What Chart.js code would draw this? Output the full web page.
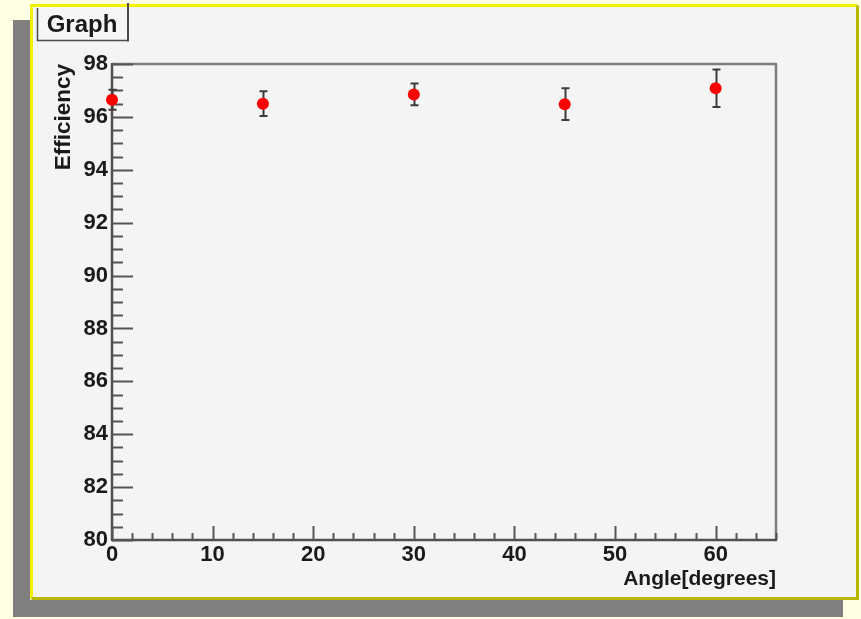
<!DOCTYPE html>
<html>
<head>
<meta charset="utf-8">
<script src="https://cdn.jsdelivr.net/npm/chart.js@4.4.1/dist/chart.umd.min.js"></script>
<style>
  html, body { margin: 0; padding: 0; background: #ffffe4; }
  canvas { display: block; }
</style>
</head>
<body>
<canvas id="chart" width="861" height="619"></canvas>
<script>
// Efficiency vs. angle
const angles = [0, 15, 30, 45, 60];
const efficiency = [96.65, 96.5, 96.85, 96.48, 97.08];
const efficiencyErr = [0.38, 0.47, 0.41, 0.6, 0.71];

const xTicks = [0, 10, 20, 30, 40, 50, 60];
const yTicks = [80, 82, 84, 86, 88, 90, 92, 94, 96, 98];

const FONT = '"Liberation Sans", Arial, Helvetica, sans-serif';
const TEXT = '#1a1a1a';

// page, shadow, yellow bevel frame and the "Graph" title box
const canvasDecor = {
  id: 'canvasDecor',
  beforeDraw(c) {
    const ctx = c.ctx;
    ctx.save();
    ctx.fillStyle = '#ffffe4';
    ctx.fillRect(0, 0, c.width, c.height);
    // drop shadow
    ctx.fillStyle = '#808080';
    ctx.fillRect(13, 20, 830, 597);
    // pad
    ctx.fillStyle = '#f4f4f4';
    ctx.fillRect(30, 4, 829, 596);
    // bevel: light top/left, dark bottom/right
    ctx.lineWidth = 3;
    ctx.strokeStyle = '#f2f200';
    ctx.beginPath();
    ctx.moveTo(31.5, 598.5); ctx.lineTo(31.5, 5.5); ctx.lineTo(857.5, 5.5);
    ctx.stroke();
    ctx.strokeStyle = '#b8b800';
    ctx.beginPath();
    ctx.moveTo(857.5, 5.5); ctx.lineTo(857.5, 598.5); ctx.lineTo(31.5, 598.5);
    ctx.stroke();

    // title box
    ctx.fillStyle = '#f6f6f6';
    ctx.fillRect(37, 7, 91, 34);
    ctx.strokeStyle = '#4a4a4a';
    ctx.lineWidth = 1.5;
    ctx.beginPath();
    ctx.moveTo(37.5, 8); ctx.lineTo(37.5, 40.5); ctx.lineTo(128, 40.5);
    ctx.stroke();
    ctx.lineWidth = 2;
    ctx.beginPath();
    ctx.moveTo(128, 3); ctx.lineTo(128, 41.5);
    ctx.stroke();
    ctx.fillStyle = TEXT;
    ctx.font = 'bold 24px ' + FONT;
    ctx.textAlign = 'center';
    ctx.textBaseline = 'alphabetic';
    ctx.fillText('Graph', 82, 32);
    ctx.restore();
  }
};

// frame, inward ticks and error bars, all placed through the chart scales
const rootAxes = {
  id: 'rootAxes',
  beforeDatasetsDraw(c) {
    const ctx = c.ctx;
    const {left, right, top, bottom} = c.chartArea;
    const xs = c.scales.x;
    const ys = c.scales.y;
    ctx.save();
    ctx.lineJoin = 'round';
    ctx.lineCap = 'butt';

    // top / right frame
    ctx.strokeStyle = '#7c7c7c';
    ctx.lineWidth = 2.5;
    ctx.beginPath();
    ctx.moveTo(left, top); ctx.lineTo(right, top); ctx.lineTo(right, bottom);
    ctx.stroke();

    // axes
    ctx.strokeStyle = '#505050';
    ctx.lineWidth = 2.5;
    ctx.beginPath();
    ctx.moveTo(left, top - 1); ctx.lineTo(left, bottom); ctx.lineTo(right + 1, bottom);
    ctx.stroke();

    // y ticks: major every 2, minor every 0.5
    ctx.lineWidth = 2;
    ctx.strokeStyle = '#555';
    ctx.beginPath();
    for (let v = ys.min; v <= ys.max + 1e-9; v += 0.5) {
      const py = Math.round(ys.getPixelForValue(v)) + 0.5;
      const len = yTicks.includes(v) ? 21 : 11;
      ctx.moveTo(left, py); ctx.lineTo(left + len, py);
    }
    // x ticks: major every 10, minor every 2
    for (let v = xs.min; v <= xs.max + 1e-9; v += 2) {
      const px = Math.round(xs.getPixelForValue(v)) + 0.5;
      const len = xTicks.includes(v) ? 14 : 7;
      ctx.moveTo(px, bottom); ctx.lineTo(px, bottom - len);
    }
    ctx.stroke();

    // error bars
    ctx.strokeStyle = '#3c3c3c';
    ctx.lineWidth = 2;
    angles.forEach((a, i) => {
      const px = Math.round(xs.getPixelForValue(a)) + 0.5;
      const yHi = ys.getPixelForValue(efficiency[i] + efficiencyErr[i]);
      const yLo = ys.getPixelForValue(efficiency[i] - efficiencyErr[i]);
      ctx.beginPath();
      ctx.moveTo(px, yHi); ctx.lineTo(px, yLo);
      ctx.moveTo(px - 4, yHi); ctx.lineTo(px + 4, yHi);
      ctx.moveTo(px - 4, yLo); ctx.lineTo(px + 4, yLo);
      ctx.stroke();
    });
    ctx.restore();
  }
};

const tickFont = {family: FONT, size: 22, weight: 'bold'};

new Chart(document.getElementById('chart'), {
  type: 'scatter',
  data: {
    datasets: [{
      label: 'Efficiency',
      data: angles.map((a, i) => ({x: a, y: efficiency[i]})),
      pointRadius: 6,
      pointHoverRadius: 6,
      pointBackgroundColor: '#ff0000',
      pointBorderWidth: 0,
      borderWidth: 0,
      clip: false,
    }]
  },
  options: {
    responsive: false,
    animation: false,
    events: [],
    layout: {
      padding: {left: 50, right: 85, top: 64, bottom: 26.7},
    },
    scales: {
      x: {
        type: 'linear',
        position: 'bottom',
        min: 0,
        max: 66,
        grid: {display: false, drawTicks: false},
        border: {display: false},
        afterBuildTicks: (s) => { s.ticks = xTicks.map((v) => ({value: v})); },
        afterFit: (s) => { s.height = 52.3; },
        ticks: {
          font: tickFont,
          color: TEXT,
          padding: 2,
          maxRotation: 0,
          autoSkip: false,
        },
        title: {
          display: true,
          text: 'Angle[degrees]',
          align: 'end',
          color: TEXT,
          font: {family: FONT, size: 21, weight: 'bold'},
          padding: 0,
        },
      },
      y: {
        type: 'linear',
        min: 80,
        max: 98,
        grid: {display: false, drawTicks: false},
        border: {display: false},
        afterBuildTicks: (s) => { s.ticks = yTicks.map((v) => ({value: v})); },
        afterFit: (s) => { s.width = 62; },
        ticks: {
          font: tickFont,
          color: TEXT,
          padding: 4,
          autoSkip: false,
        },
        title: {
          display: true,
          text: 'Efficiency',
          align: 'end',
          color: TEXT,
          font: {family: FONT, size: 22.5, weight: 'bold'},
          padding: 0,
        },
      },
    },
    plugins: {
      legend: {display: false},
      tooltip: {enabled: false},
    },
  },
  plugins: [canvasDecor, rootAxes],
});
</script>
</body>
</html>
